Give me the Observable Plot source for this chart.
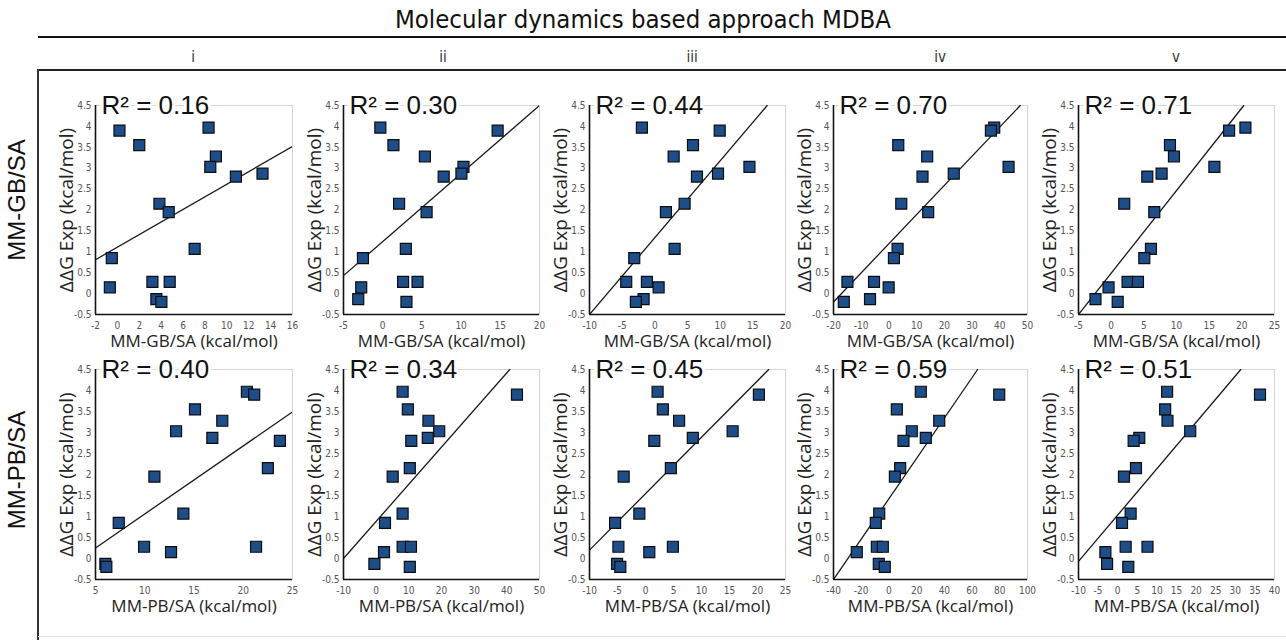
<!DOCTYPE html>
<html>
<head>
<meta charset="utf-8">
<script src="https://cdn.jsdelivr.net/npm/d3@7"></script>
<script src="https://cdn.jsdelivr.net/npm/@observablehq/plot@0.6"></script>
<style>
  html, body { margin: 0; padding: 0; background: #fff; }
  body { width: 1286px; height: 640px; position: relative; overflow: hidden; font-family: "Liberation Sans", Arial, sans-serif; }
  .abs { position: absolute; }
  .cond { font-family: "DejaVu Sans Condensed", "Liberation Sans Narrow", "DejaVu Sans", sans-serif; font-stretch: condensed; }
</style>
</head>
<body>
<script>
// ---------- data ----------
const title = "Molecular dynamics based approach MDBA";
const columnLabels = ["i", "ii", "iii", "iv", "v"];
const rowLabels = ["MM-GB/SA", "MM-PB/SA"];
const xAxisTitles = ["MM-GB/SA (kcal/mol)", "MM-PB/SA (kcal/mol)"];
const yAxisTitle = "ΔΔG Exp (kcal/mol)";

// experimental ΔΔG (shared by all panels, same compound order)
const expY = [3.97, 3.9, 3.55, 3.28, 3.03, 2.87, 2.8, 2.15, 1.95, 1.07, 0.85, 0.28, 0.28, 0.15, -0.13, -0.2];

// computed values, MM-GB/SA row
const gbI   = [8.33, 0.19, 2.0, 9.0, 8.49, 13.26, 10.83, 3.84, 4.69, 7.06, -0.51, 3.2, 4.78, -0.69, 3.56, 4.02];
const gbII  = [-0.3, 14.66, 1.37, 5.38, 10.3, 10.04, 7.78, 2.09, 5.6, 2.95, -2.52, 2.6, 4.44, -2.74, -3.12, 3.03];
const gbIII = [-1.98, 9.93, 5.84, 2.88, 14.48, 9.67, 6.45, 4.56, 1.7, 3.03, -3.15, -1.21, -4.38, 0.58, -1.72, -2.9];
const gbIV  = [38.0, 36.8, 3.37, 13.8, 43.17, 23.39, 12.12, 4.45, 14.16, 3.13, 1.8, -14.97, -5.38, -0.1, -6.82, -16.28];
const gbV   = [20.55, 18.05, 9.0, 9.61, 15.8, 7.72, 5.53, 2.0, 6.6, 6.09, 5.07, 2.51, 4.1, -0.4, -2.4, 1.0];
// computed values, MM-PB/SA row
const pbI   = [20.37, 21.11, 15.1, 17.87, 13.18, 16.86, 23.72, 22.5, 10.98, 13.92, 7.36, 9.93, 21.3, 12.67, 6.0, 6.1];
const pbII  = [8.1, 43.1, 9.7, 16.0, 19.3, 15.8, 10.75, 10.3, 5.06, 8.1, 2.7, 8.1, 10.65, 2.4, -0.54, 10.3];
const pbIII = [2.16, 20.25, 3.1, 6.0, 15.56, 8.45, 1.57, 4.53, -3.9, -1.1, -5.43, -4.84, 4.89, 0.68, -5.08, -4.5];
const pbIV  = [23.0, 79.6, 5.7, 36.3, 16.5, 26.6, 10.5, 8.1, 4.3, -7.0, -9.45, -8.7, -4.4, -23.2, -7.3, -3.0];
const pbV   = [12.6, 36.3, 12.1, 12.7, 18.5, 5.5, 4.07, 4.66, 1.6, 3.3, 1.1, 2.03, 7.6, -3.14, -2.71, 2.7];

const r2GB = ["0.16", "0.30", "0.44", "0.70", "0.71"];
const r2PB = ["0.40", "0.34", "0.45", "0.59", "0.51"];

// axis ticks
const yTicks = [-0.5, 0, 0.5, 1, 1.5, 2, 2.5, 3, 3.5, 4, 4.5];
const xTicksGB = [
  [-2, 0, 2, 4, 6, 8, 10, 12, 14, 16],
  [-5, 0, 5, 10, 15, 20],
  [-10, -5, 0, 5, 10, 15, 20],
  [-20, -10, 0, 10, 20, 30, 40, 50],
  [-5, 0, 5, 10, 15, 20, 25]
];
const xTicksPB = [
  [5, 10, 15, 20, 25],
  [-10, 0, 10, 20, 30, 40, 50],
  [-10, -5, 0, 5, 10, 15, 20, 25],
  [-40, -20, 0, 20, 40, 60, 80, 100],
  [-10, -5, 0, 5, 10, 15, 20, 25, 30, 35, 40]
];

// trendline end points (x, y)
const trendGB = [
  [[-2, 0.81], [16, 3.52]],
  [[-5, 0.43], [20, 4.5]],
  [[-10, -0.5], [17.2, 4.5]],
  [[-20, -0.2], [47.4, 4.5]],
  [[-5, -0.5], [20.3, 4.5]]
];
const trendPB = [
  [[5, 0.25], [25, 3.49]],
  [[-10, 0], [40.9, 4.5]],
  [[-10, 0.2], [22, 4.5]],
  [[-40, -0.5], [64, 4.5]],
  [[-10, -0.07], [31.4, 4.5]]
];

// ---------- layout ----------
const rows = [
  { xs: [gbI, gbII, gbIII, gbIV, gbV], r2: r2GB, ticks: xTicksGB, trend: trendGB, xTitle: xAxisTitles[0] },
  { xs: [pbI, pbII, pbIII, pbIV, pbV], r2: r2PB, ticks: xTicksPB, trend: trendPB, xTitle: xAxisTitles[1] }
];
const colX = [[95, 292], [343, 539], [589, 785], [833, 1027], [1078, 1274]];
const rowY = [[105, 314], [369, 579]];
const ML = 50, MR = 12, MT = 16, MB = 44;

function addDiv(text, css, cls) {
  const d = document.createElement("div");
  d.className = "abs " + (cls || "");
  d.textContent = text;
  Object.assign(d.style, css);
  document.body.appendChild(d);
  return d;
}
function addRule(css) {
  const d = document.createElement("div");
  d.className = "abs";
  Object.assign(d.style, css);
  document.body.appendChild(d);
}

// header
addDiv(title, { left: "0px", width: "1286px", top: "4px", textAlign: "center", fontSize: "25.5px", color: "#111" }, "cond");
addRule({ left: "38px", top: "36px", width: "1248px", height: "2px", background: "#111" });
addRule({ left: "38px", top: "69px", width: "1248px", height: "2px", background: "#222" });
addRule({ left: "37px", top: "69px", width: "2px", height: "571px", background: "#333" });
addRule({ left: "38px", top: "636px", width: "1248px", height: "1px", background: "#e4e4e4" });
const colLabelX = [193, 443, 692, 940, 1176];
columnLabels.forEach((t, i) => addDiv(t, { left: (colLabelX[i] - 30) + "px", width: "60px", top: "48px", textAlign: "center", fontSize: "15px", color: "#333" }, "cond"));
const rowLabelY = [200, 470];
rowLabels.forEach((t, i) => addDiv(t, { left: (17 - 80) + "px", width: "160px", top: (rowLabelY[i] - 14) + "px", textAlign: "center", fontSize: "24px", color: "#111", transform: "rotate(-90deg)", lineHeight: "28px" }));

rows.forEach((row, r) => {
  row.xs.forEach((xs, c) => {
    const pts = expY.map((y, i) => ({ x: xs[i], y }));
    const ticks = row.ticks[c];
    const lo = ticks[0], hi = ticks[ticks.length - 1];
    const tr = row.trend[c].map(([x, y]) => ({ x, y }));
    const [x0, x1] = colX[c];
    const [y0, y1] = rowY[r];
    const svg = Plot.plot({
      width: ML + (x1 - x0) + MR,
      height: MT + (y1 - y0) + MB,
      marginLeft: ML, marginRight: MR, marginTop: MT, marginBottom: MB,
      style: { background: "transparent", overflow: "visible", color: "#555", fontFamily: "Liberation Sans, Arial, sans-serif" },
      x: { domain: [lo, hi] },
      y: { domain: [-0.5, 4.5] },
      marks: [
        Plot.frame({ stroke: "#d4d4d4", strokeWidth: 1 }),
        Plot.axisX({ ticks, tickSize: 0, tickPadding: 7, tickFormat: d => String(d), label: null, fontSize: 10, fontFamily: "DejaVu Sans Condensed, Liberation Sans Narrow, DejaVu Sans, sans-serif" }),
        Plot.axisY({ ticks: yTicks, tickSize: 0, tickPadding: 4, tickFormat: d => String(d), label: null, fontSize: 10, fontFamily: "DejaVu Sans Condensed, Liberation Sans Narrow, DejaVu Sans, sans-serif" }),
        Plot.line(tr, { x: "x", y: "y", stroke: "#1a1a1a", strokeWidth: 1.3, clip: true }),
        Plot.ruleX([lo], { stroke: "#111", strokeWidth: 1.6 }),
        Plot.ruleY([-0.5], { stroke: "#111", strokeWidth: 1.6 }),
        Plot.dot(pts, { x: "x", y: "y", symbol: "square", r: 6.2, fill: "#1d4e8a", stroke: "#0d0d0d", strokeWidth: 1.2 }),
        Plot.text([row.r2[c]], { frameAnchor: "top-left", text: d => "R² = " + d, textAnchor: "start", lineAnchor: "middle", dx: 6, dy: 0, fontSize: 26, fill: "#111", stroke: "white", strokeWidth: 6 }),
        Plot.text([row.xTitle], { frameAnchor: "bottom", text: d => d, textAnchor: "middle", lineAnchor: "middle", dy: 27, fontSize: 17, fill: "#222", fontFamily: "Open Sans, DejaVu Sans, sans-serif" }),
        Plot.text([yAxisTitle], { frameAnchor: "left", text: d => d, rotate: -90, textAnchor: "middle", lineAnchor: "middle", dx: -29, fontSize: 19, fill: "#222", fontFamily: "Open Sans, DejaVu Sans, sans-serif" })
      ]
    });
    svg.style.position = "absolute";
    svg.style.left = (x0 - ML) + "px";
    svg.style.top = (y0 - MT) + "px";
    document.body.appendChild(svg);
  });
});
</script>
</body>
</html>
